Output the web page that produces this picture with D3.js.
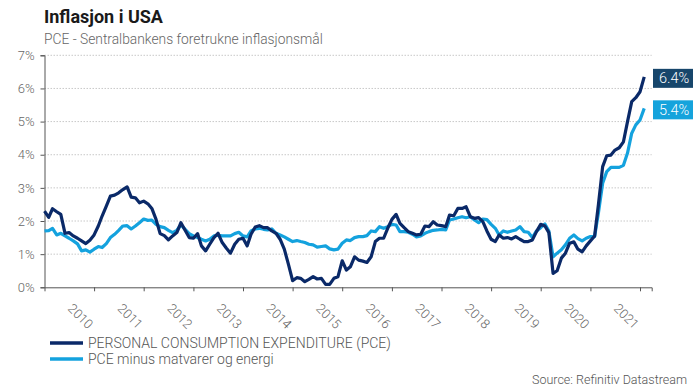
<!DOCTYPE html>
<html>
<head>
<meta charset="utf-8">
<script src="https://cdn.jsdelivr.net/npm/d3@7"></script>
<style>
  body { margin: 0; background: #fff; }
  svg { display: block; font-family: Roboto, "Noto Sans", sans-serif; }
</style>
</head>
<body>
<div id="chart"></div>
<script>
// monthly yoy values, jan 2010 - feb 2022
var startYear = 2010
var pce = [
  2.30, 2.11, 2.37, 2.28, 2.20, 1.63, 1.65, 1.55, 1.48, 1.40, 1.32, 1.42,
  1.58, 1.85, 2.15, 2.45, 2.75, 2.78, 2.85, 2.95, 3.03, 2.72, 2.70, 2.55,
  2.60, 2.52, 2.38, 2.05, 1.62, 1.56, 1.43, 1.55, 1.65, 1.95, 1.72, 1.50,
  1.48, 1.62, 1.25, 1.10, 1.30, 1.50, 1.63, 1.35, 1.18, 1.03, 1.30, 1.45,
  1.48, 1.25, 1.60, 1.82, 1.86, 1.80, 1.80, 1.70, 1.63, 1.45, 1.15, 0.70,
  0.20, 0.29, 0.27, 0.17, 0.24, 0.32, 0.25, 0.27, 0.09, 0.09, 0.27, 0.32,
  0.80, 0.52, 0.62, 0.92, 0.82, 0.79, 0.75, 0.92, 1.38, 1.48, 1.48, 1.78,
  2.05, 2.20, 1.93, 1.80, 1.68, 1.63, 1.58, 1.60, 1.85, 1.83, 1.98, 1.88,
  1.86, 1.83, 2.18, 2.16, 2.38, 2.38, 2.43, 2.13, 2.08, 2.10, 1.98, 1.70,
  1.45, 1.38, 1.58, 1.48, 1.50, 1.46, 1.53, 1.45, 1.38, 1.38, 1.43, 1.68,
  1.90, 1.85, 1.65, 0.42, 0.50, 0.88, 1.03, 1.33, 1.37, 1.15, 1.07, 1.25,
  1.40, 1.55, 2.50, 3.64, 3.97, 3.99, 4.14, 4.21, 4.39, 5.00, 5.60, 5.72,
  5.90, 6.35
];
var core = [
  1.70, 1.71, 1.78, 1.58, 1.63, 1.55, 1.48, 1.40, 1.31, 1.10, 1.13, 1.06,
  1.15, 1.23, 1.20, 1.32, 1.50, 1.60, 1.72, 1.85, 1.86, 1.76, 1.85, 1.95,
  2.06, 2.02, 2.03, 1.90, 1.83, 1.80, 1.72, 1.65, 1.72, 1.88, 1.75, 1.62,
  1.55, 1.50, 1.45, 1.40, 1.45, 1.55, 1.57, 1.55, 1.55, 1.55, 1.62, 1.66,
  1.55, 1.52, 1.70, 1.76, 1.78, 1.75, 1.73, 1.76, 1.63, 1.58, 1.52, 1.45,
  1.38, 1.41, 1.38, 1.35, 1.30, 1.28, 1.21, 1.23, 1.25, 1.16, 1.13, 1.15,
  1.33, 1.43, 1.41, 1.50, 1.53, 1.53, 1.56, 1.70, 1.68, 1.83, 1.78, 1.83,
  1.90, 1.88, 1.68, 1.68, 1.66, 1.60, 1.52, 1.55, 1.63, 1.68, 1.72, 1.73,
  1.75, 1.73, 2.03, 2.06, 2.10, 2.13, 2.10, 2.13, 2.03, 1.95, 2.06, 2.04,
  1.90, 1.78, 1.58, 1.70, 1.66, 1.70, 1.73, 1.83, 1.68, 1.66, 1.50, 1.70,
  1.80, 1.91, 1.70, 0.92, 1.03, 1.13, 1.28, 1.48, 1.58, 1.47, 1.40, 1.48,
  1.53, 1.53, 2.25, 3.14, 3.49, 3.62, 3.62, 3.62, 3.68, 4.05, 4.65, 4.90,
  5.05, 5.40
];
var years = [2010, 2011, 2012, 2013, 2014, 2015, 2016, 2017, 2018, 2019, 2020, 2021]
var yTicks = [0, 1, 2, 3, 4, 5, 6, 7]
var seriesNames = ["PERSONAL CONSUMPTION EXPENDITURE (PCE)", "PCE minus matvarer og energi"]
var endLabels = ["6.4%", "5.4%"]

var svgWidth = 698
var svgHeight = 388
var margin = { top: 55.3, right: 46.3, bottom: 100.7, left: 44.5 }
var dark = "#0a2968"
var light = "#14a2de"
var boxDark = "#17466b"
var boxLight = "#15a3dc"

var svg = d3.select("#chart").append("svg")
  .attr("width", svgWidth)
  .attr("height", svgHeight)

var x = d3.scaleTime()
  .domain([new Date(2010, 0, 1), new Date(2022, 2, 28)])
  .range([margin.left, svgWidth - margin.right])

var y = d3.scaleLinear()
  .domain([0, 7])
  .range([svgHeight - margin.bottom, margin.top])

var monthDate = (d, i) => new Date(startYear, i, 1)

// title
svg.append("text")
  .attr("x", 44).attr("y", 22.5)
  .attr("font-size", 18).attr("font-weight", 700)
  .attr("fill", "#1a1a1a")
  .text("Inflasjon i USA")

svg.append("text")
  .attr("x", 44).attr("y", 43.5)
  .attr("font-size", 13.8).attr("font-weight", 300)
  .attr("fill", "#666")
  .text("PCE - Sentralbankens foretrukne inflasjonsmål")

// grid
svg.append("g")
  .selectAll("line")
  .data(yTicks.filter(d => d > 0))
  .join("line")
  .attr("x1", x.range()[0]).attr("x2", x.range()[1])
  .attr("y1", d => y(d)).attr("y2", d => y(d))
  .attr("stroke", "#c8c8c8")
  .attr("stroke-dasharray", "1.5,1.5")

// y axis
var yAxis = svg.append("g")
  .attr("transform", `translate(${margin.left},0)`)
  .call(d3.axisLeft(y).tickValues(yTicks).tickFormat(d => d + "%").tickSize(4).tickPadding(6))
yAxis.select(".domain").attr("stroke", "#555")
yAxis.selectAll(".tick line").attr("stroke", "#555")
yAxis.selectAll("text").attr("font-size", 13).attr("font-weight", 300).attr("fill", "#666").attr("font-family", "Roboto")

// x axis
var xAxis = svg.append("g")
  .attr("transform", `translate(0,${y(0)})`)
  .call(d3.axisBottom(x).tickValues(years.map(d => new Date(d + 1, 0, 1))).tickSize(4).tickFormat(""))
xAxis.select(".domain").attr("stroke", "#555")
xAxis.selectAll(".tick line").attr("stroke", "#555")

svg.append("g")
  .selectAll("text")
  .data(years)
  .join("text")
  .attr("transform", d => `translate(${x(new Date(d, 6, 1)) - 2},${y(0) + 22}) rotate(45)`)
  .attr("font-size", 13).attr("font-weight", 300)
  .attr("fill", "#666")
  .text(d => d)

// lines
var line = d3.line()
  .x((d, i) => x(monthDate(d, i)))
  .y(d => y(d))

svg.append("path")
  .datum(core)
  .attr("d", line)
  .attr("fill", "none")
  .attr("stroke", light)
  .attr("stroke-width", 3.2)
  .attr("stroke-linejoin", "round")

svg.append("path")
  .datum(pce)
  .attr("d", line)
  .attr("fill", "none")
  .attr("stroke", dark)
  .attr("stroke-width", 3.2)
  .attr("stroke-linejoin", "round")

// end labels
var ends = [
  { v: pce[pce.length - 1], label: endLabels[0], color: boxDark },
  { v: core[core.length - 1], label: endLabels[1], color: boxLight }
]
var endG = svg.append("g").selectAll("g").data(ends).join("g")
  .attr("transform", d => `translate(653,${y(d.v) - 8})`)
endG.append("rect")
  .attr("width", 40).attr("height", 19)
  .attr("fill", d => d.color)
endG.append("text")
  .attr("x", 6).attr("y", 14.5)
  .attr("font-size", 14.5).attr("font-weight", 300)
  .attr("fill", "#fff")
  .text(d => d.label)

// legend
var legend = svg.append("g").selectAll("g")
  .data(seriesNames)
  .join("g")
  .attr("transform", (d, i) => `translate(50,${343 + i * 16})`)
legend.append("line")
  .attr("x1", 0).attr("x2", 33)
  .attr("stroke", (d, i) => i == 0 ? dark : light)
  .attr("stroke-width", 3.5)
legend.append("text")
  .attr("x", 38).attr("y", 5)
  .attr("font-size", 14).attr("font-weight", 300)
  .attr("fill", "#555")
  .text(d => d)

svg.append("text")
  .attr("x", 687).attr("y", 384)
  .attr("text-anchor", "end")
  .attr("font-size", 12.5).attr("font-weight", 300)
  .attr("fill", "#555")
  .text("Source: Refinitiv Datastream")
</script>
</body>
</html>
